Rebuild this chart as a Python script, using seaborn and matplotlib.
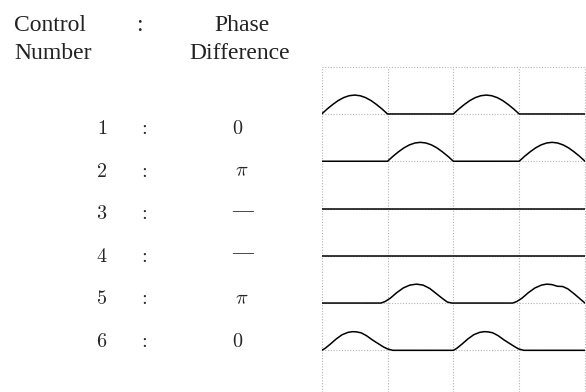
import numpy as np
import pandas as pd
import matplotlib
matplotlib.use("Agg")
import matplotlib.pyplot as plt
import seaborn as sns

# ---------------- data ----------------
CONTROL_NUMBERS = ["1", "2", "3", "4", "5", "6"]
PHASE_DIFF = ["0", r"\pi", "—", "—", r"\pi", "0"]

# half-wave arch shape, relative position / height
ARCH_T = [0.0, 0.083, 0.167, 0.25, 0.333, 0.417, 0.5, 0.583, 0.667, 0.75, 0.833, 0.917, 1.0]
ARCH_H = [0.0, 0.105, 0.2, 0.283, 0.346, 0.386, 0.4, 0.386, 0.346, 0.283, 0.2, 0.105, 0.0]

ROW1_ARCH_STARTS = [0, 2]
ROW2_ARCH_STARTS = [1, 3]

ROW3_X = [0, 4]
ROW3_H = [0, 0]
ROW4_X = [0, 4]
ROW4_H = [0, 0]

ROW5_X = [0, 0.90, 0.96, 1.04, 1.14, 1.24, 1.34, 1.44, 1.54, 1.64, 1.74, 1.84, 1.91, 1.98,
          2.90, 2.96, 3.04, 3.14, 3.24, 3.34, 3.42, 3.50, 3.58, 3.66, 3.74, 3.84, 3.94, 4.0]
ROW5_H = [0, 0, 0.03, 0.10, 0.22, 0.32, 0.38, 0.40, 0.38, 0.31, 0.20, 0.09, 0.02, 0,
          0, 0.03, 0.10, 0.22, 0.32, 0.38, 0.40, 0.39, 0.355, 0.35, 0.30, 0.19, 0.07, 0]

ROW6_X = [0, 0.05, 0.13, 0.22, 0.31, 0.40, 0.47, 0.53, 0.60, 0.68, 0.77, 0.86, 0.94, 1.00, 1.08,
          2.00, 2.05, 2.13, 2.22, 2.31, 2.40, 2.47, 2.53, 2.60, 2.68, 2.77, 2.86, 2.94, 2.99, 3.07, 4.0]
ROW6_H = [0, 0.04, 0.13, 0.24, 0.33, 0.38, 0.395, 0.39, 0.37, 0.31, 0.22, 0.14, 0.07, 0.03, 0,
          0, 0.04, 0.13, 0.24, 0.33, 0.38, 0.395, 0.39, 0.37, 0.31, 0.22, 0.14, 0.07, 0.03, 0, 0]


def arch_row(starts):
    xs, hs = [], []
    for s in range(4):
        if s in starts:
            xs += [s + t for t in ARCH_T]
            hs += ARCH_H
        else:
            xs += [s, s + 1]
            hs += [0, 0]
    return xs, hs


rows = {}
rows[1] = arch_row(ROW1_ARCH_STARTS)
rows[2] = arch_row(ROW2_ARCH_STARTS)
rows[3] = (ROW3_X, ROW3_H)
rows[4] = (ROW4_X, ROW4_H)
rows[5] = (ROW5_X, ROW5_H)
rows[6] = (ROW6_X, ROW6_H)

recs = []
for k, (xs, hs) in rows.items():
    for i, (x, h) in enumerate(zip(xs, hs)):
        recs.append({"row": k, "order": i, "x": x, "y": -k + h})
df = pd.DataFrame(recs)

# ---------------- plot ----------------
sns.set_style("white")
plt.rcParams["font.family"] = ["Liberation Serif", "DejaVu Serif"]
plt.rcParams["mathtext.fontset"] = "cm"

W, H = 586, 392
fig = plt.figure(figsize=(W / 100, H / 100), dpi=100)
left, right, top = 321.7, 585.0, 66.7
ax = fig.add_axes([left / W, 0, (right - left) / W, 1 - top / H])

sns.lineplot(data=df, x="x", y="y", units="row", estimator=None, sort=False,
             color="black", linewidth=1.1, ax=ax, zorder=3)

ax.set_xlim(0, 4)
ax.set_ylim(-(H - top) / 47.27, 0)
ax.set_xticks([0, 1, 2, 3, 4])
ax.set_yticks([0, -1, -2, -3, -4, -5, -6])
ax.grid(True, color="#b4b4b4", linestyle=(0, (1, 1.5)), linewidth=0.8)
for gl in ax.get_xgridlines() + ax.get_ygridlines():
    gl.set_clip_on(False)
ax.tick_params(length=0, labelbottom=False, labelleft=False)
ax.set_xlabel("")
ax.set_ylabel("")
for sp in ax.spines.values():
    sp.set_visible(False)


def fx(px):
    return px / W


def fy(py):
    return 1 - py / H


# header
hs = 17
fig.text(fx(14), fy(31), "Control", fontsize=hs, ha="left", va="baseline", color="#222222")
fig.text(fx(14), fy(59), "Number", fontsize=hs, ha="left", va="baseline", color="#222222")
fig.text(fx(139), fy(31), ":", fontsize=hs, ha="center", va="baseline", color="#222222")
fig.text(fx(242), fy(31), "Phase", fontsize=hs, ha="center", va="baseline", color="#222222")
fig.text(fx(240), fy(59), "Difference", fontsize=hs, ha="center", va="baseline", color="#222222")

# rows
rs = 14.5
for i, (num, ph) in enumerate(zip(CONTROL_NUMBERS, PHASE_DIFF)):
    base = 134 + 42.6 * i
    fig.text(fx(102), fy(base), f"${num}$", fontsize=rs, ha="center", va="baseline")
    fig.text(fx(143), fy(base), "$:$", fontsize=rs, ha="center", va="baseline")
    if ph == "—":
        fig.text(fx(243), fy(base - 8), ph, fontsize=15, ha="center", va="center")
    elif ph == r"\pi":
        fig.text(fx(242), fy(base), f"${ph}$", fontsize=rs, ha="center", va="baseline")
    else:
        fig.text(fx(238), fy(base), f"${ph}$", fontsize=rs, ha="center", va="baseline")

fig.savefig("out.png", dpi=100)
